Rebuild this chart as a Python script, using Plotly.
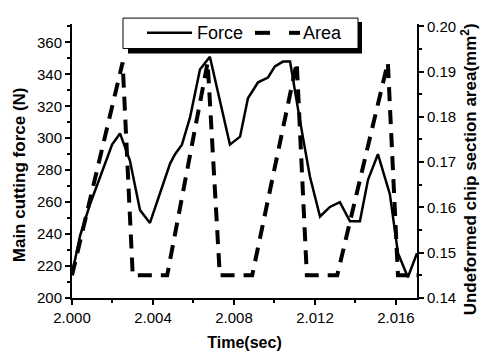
import plotly.graph_objects as go

# Data
force_t = [2.0000, 2.0004, 2.0009, 2.00138, 2.00198, 2.00237, 2.00286, 2.00336, 2.00385,
           2.00484, 2.00509, 2.00543, 2.00583, 2.00632, 2.00681, 2.0078, 2.0083, 2.00869,
           2.00919, 2.00968, 2.01002, 2.01042, 2.01077, 2.01126, 2.01175, 2.01225, 2.01274,
           2.01323, 2.01373, 2.01422, 2.01462, 2.01511, 2.0157, 2.0161, 2.01659, 2.01704]
force_v = [215, 239, 259, 276, 296, 303, 286, 255, 247,
           284, 290, 296, 313, 343, 351, 296, 301, 325,
           335, 338, 345, 348, 348, 311, 276, 251, 257,
           260, 248, 248, 274, 290, 265, 228, 213, 228]

area_t = [2.0000, 2.0025, 2.0030, 2.0047, 2.0067, 2.0073, 2.0089, 2.0111, 2.0116,
          2.0131, 2.0156, 2.0161, 2.01704]
area_v = [0.145, 0.192, 0.145, 0.145, 0.192, 0.145, 0.145, 0.192, 0.145,
          0.145, 0.192, 0.145, 0.145]

x_ticks = [2.000, 2.004, 2.008, 2.012, 2.016]
x_labels = ["2.000", "2.004", "2.008", "2.012", "2.016"]
y_ticks = [200, 220, 240, 260, 280, 300, 320, 340, 360]
y2_ticks = [0.14, 0.15, 0.16, 0.17, 0.18, 0.19, 0.20]
y2_labels = ["0.14", "0.15", "0.16", "0.17", "0.18", "0.19", "0.20"]
series_names = ["Force", "Area"]

FONT = "Liberation Sans, Arial, sans-serif"

fig = go.Figure()
fig.add_trace(go.Scatter(x=force_t, y=force_v, mode="lines", name=series_names[0],
                         line=dict(color="black", width=2.5), showlegend=False))
fig.add_trace(go.Scatter(x=area_t, y=area_v, mode="lines", name=series_names[1], yaxis="y2",
                         line=dict(color="black", width=4, dash="14px,9px"), showlegend=False))

W, H = 480, 361
L, R, T, B = 72, 63, 24, 58
pw, ph = W - L - R, H - T - B

def px(x):
    return (x - L) / pw

def py(y):
    return (H - B - y) / ph

tickfont = dict(family=FONT, size=15, color="black")
fig.update_layout(
    width=W, height=H,
    margin=dict(l=L, r=R, t=T, b=B, pad=0),
    paper_bgcolor="white", plot_bgcolor="white",
    font=dict(family=FONT, color="black"),
    xaxis=dict(range=[2.0, 2.01704], tickvals=x_ticks, ticktext=x_labels,
               showline=True, linecolor="black", linewidth=2, ticks="outside",
               ticklen=5, tickwidth=1.5, tickcolor="black", showgrid=False, zeroline=False,
               tickfont=tickfont,
               minor=dict(dtick=0.002, tick0=2.0, ticks="outside", ticklen=3, tickcolor="black", tickwidth=1.5, showgrid=False),
               title=dict(text="Time(sec)", font=dict(family=FONT, size=16, weight="bold"), standoff=12)),
    yaxis=dict(range=[200, 371.5], tickvals=y_ticks,
               showline=True, linecolor="black", linewidth=2, ticks="outside",
               ticklen=5, tickwidth=1.5, tickcolor="black", showgrid=False, zeroline=False,
               tickfont=tickfont,
               minor=dict(dtick=10, tick0=200, ticks="outside", ticklen=3, tickcolor="black", tickwidth=1.5, showgrid=False)),
    yaxis2=dict(range=[0.14, 0.2005], tickvals=y2_ticks, ticktext=y2_labels,
                overlaying="y", side="right", anchor="x",
                showline=True, linecolor="black", linewidth=2, ticks="outside",
                ticklen=5, tickwidth=1.5, tickcolor="black", showgrid=False, zeroline=False,
                tickfont=tickfont,
                minor=dict(dtick=0.005, tick0=0.14, ticks="outside", ticklen=3, tickcolor="black", tickwidth=1.5, showgrid=False)),
    showlegend=False,
)

# Hand-drawn legend box with drop shadow
fig.add_shape(type="rect", xref="paper", yref="paper",
              x0=px(128), x1=px(362), y0=py(54), y1=py(22),
              fillcolor="black", line=dict(width=0), layer="above")
fig.add_shape(type="rect", xref="paper", yref="paper",
              x0=px(123), x1=px(358), y0=py(49), y1=py(18),
              fillcolor="white", line=dict(color="black", width=1), layer="above")
# legend samples
fig.add_shape(type="line", xref="paper", yref="paper",
              x0=px(147), x1=px(192), y0=py(33), y1=py(33),
              line=dict(color="black", width=2.5), layer="above")
fig.add_shape(type="line", xref="paper", yref="paper",
              x0=px(255), x1=px(270), y0=py(33), y1=py(33),
              line=dict(color="black", width=4), layer="above")
fig.add_shape(type="line", xref="paper", yref="paper",
              x0=px(289), x1=px(300), y0=py(33), y1=py(33),
              line=dict(color="black", width=4), layer="above")
fig.add_annotation(text=series_names[0], xref="paper", yref="paper", x=px(195), y=py(33),
                   xanchor="left", yanchor="middle", showarrow=False,
                   font=dict(family=FONT, size=18, color="black"))
fig.add_annotation(text=series_names[1], xref="paper", yref="paper", x=px(301), y=py(33),
                   xanchor="left", yanchor="middle", showarrow=False,
                   font=dict(family=FONT, size=18, color="black"))

fig.add_annotation(text="Main cutting force (N)", xref="paper", yref="paper",
                   x=px(19), y=py(178), textangle=-90, showarrow=False,
                   xanchor="center", yanchor="middle",
                   font=dict(family=FONT, size=17, weight="bold", color="black"))
fig.add_annotation(text="Undeformed chip section area(mm<sup>2</sup>)", xref="paper", yref="paper",
                   x=px(469), y=py(172), textangle=-90, showarrow=False,
                   xanchor="center", yanchor="middle",
                   font=dict(family=FONT, size=17, weight="bold", color="black"))

fig.write_html("out.html")
